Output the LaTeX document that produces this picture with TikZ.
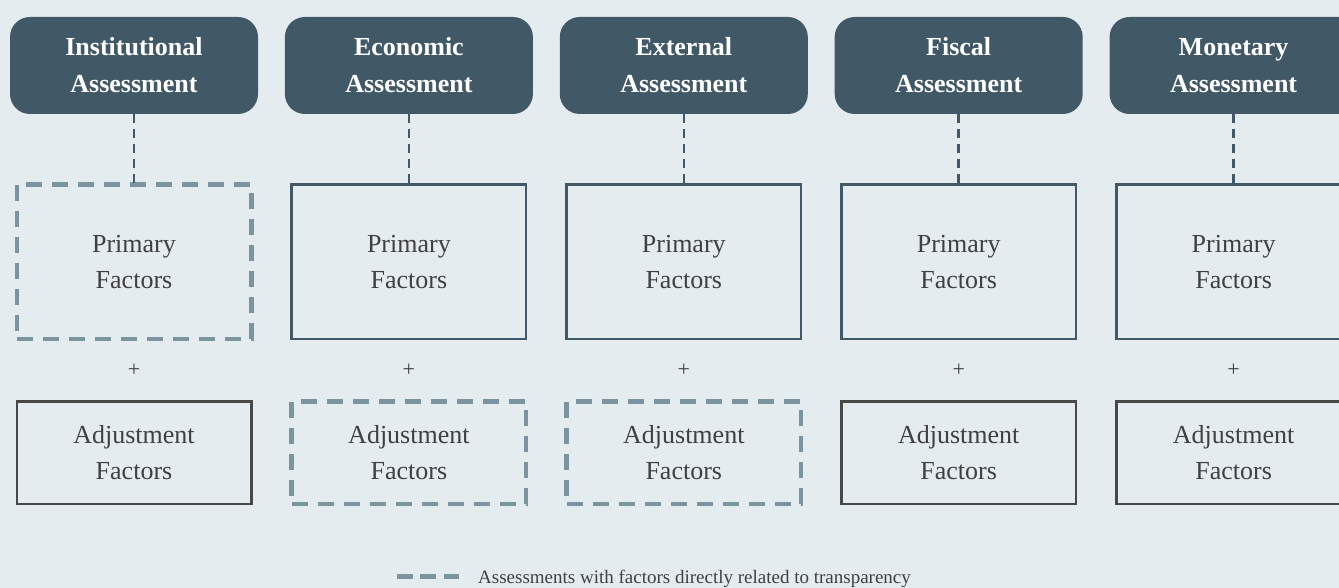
\documentclass[tikz,border=0pt]{standalone}
\usepackage{fontspec}
\setmainfont{Liberation Serif}
\usetikzlibrary{positioning,calc}

\definecolor{bgblue}{HTML}{E4ECF0}
\definecolor{headblue}{HTML}{415866}
\definecolor{dashblue}{HTML}{7A95A0}
\definecolor{textgray}{HTML}{404040}
\definecolor{boxgray}{HTML}{484848}

\begin{document}
\begin{tikzpicture}[
    x=1pt, y=1pt,
    node distance=69pt and 26.5pt,
    head/.style = {rounded corners=20pt, fill=headblue, text=white, minimum width=248pt, minimum height=97pt, align=center, inner sep=0pt, font=\bfseries\fontsize{26}{37}\selectfont},
    factor/.style = {draw=headblue, line width=2.5pt, outer sep=1.25pt, minimum width=234.5pt, align=center, inner sep=0pt, text=textgray, font=\fontsize{26}{36}\selectfont},
    primary/.style = {factor, minimum height=154.5pt},
    adjust/.style = {factor, draw=boxgray, minimum height=102.5pt},
    transp/.style = {draw=dashblue, line width=4.5pt, dash pattern=on 16pt off 10pt},
    plus/.style = {text=textgray, inner sep=0pt, font=\fontsize{22}{22}\selectfont},
    link/.style = {draw=headblue, line width=2.5pt, dash pattern=on 9pt off 6pt}
]

\clip (0,0) rectangle (1339,588);
\useasboundingbox (0,0) rectangle (1339,588);
\fill[bgblue] (0,0) rectangle (1339,588);

% assessment headers
\node[head] (inst) at (134,522.5) {Institutional\\Assessment};
\node[head, right=of inst] (econ) {Economic\\Assessment};
\node[head, right=of econ] (extl) {External\\Assessment};
\node[head, right=of extl] (fisc) {Fiscal\\Assessment};
\node[head, right=of fisc] (mone) {Monetary\\Assessment};

% primary factors
\node[primary, transp, below=of inst] (instp) {Primary\\Factors};
\node[primary, below=of econ] (econp) {Primary\\Factors};
\node[primary, below=of extl] (extlp) {Primary\\Factors};
\node[primary, below=of fisc] (fiscp) {Primary\\Factors};
\node[primary, below=of mone] (monep) {Primary\\Factors};

% adjustment factors
\node[adjust, below=60pt of instp] (insta) {Adjustment\\Factors};
\node[adjust, transp, below=60pt of econp] (econa) {Adjustment\\Factors};
\node[adjust, transp, below=60pt of extlp] (extla) {Adjustment\\Factors};
\node[adjust, below=60pt of fiscp] (fisca) {Adjustment\\Factors};
\node[adjust, below=60pt of monep] (monea) {Adjustment\\Factors};

\node[plus] (instplus) at ($(instp.south)!.5!(insta.north)$) {+};
\node[plus] (econplus) at ($(econp.south)!.5!(econa.north)$) {+};
\node[plus] (extlplus) at ($(extlp.south)!.5!(extla.north)$) {+};
\node[plus] (fiscplus) at ($(fiscp.south)!.5!(fisca.north)$) {+};
\node[plus] (moneplus) at ($(monep.south)!.5!(monea.north)$) {+};

\draw[link] (inst) -- (instp);
\draw[link] (econ) -- (econp);
\draw[link] (extl) -- (extlp);
\draw[link] (fisc) -- (fiscp);
\draw[link] (mone) -- (monep);

% legend
\coordinate (legkey) at (397,11);
\draw[draw=dashblue, line width=5pt, dash pattern=on 15.5pt off 7.75pt] (legkey) -- ++(62,0);
\node[anchor=base west, inner sep=0pt, text=textgray, font=\fontsize{19}{22}\selectfont] (legend) at (478,4) {Assessments with factors directly related to transparency};

\end{tikzpicture}
\end{document}
